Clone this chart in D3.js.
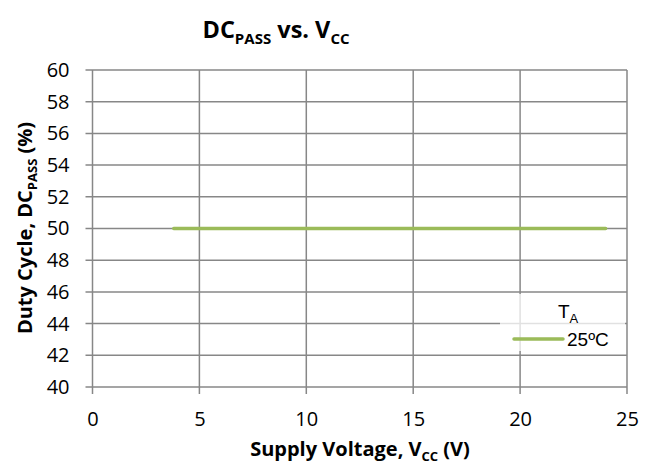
<!DOCTYPE html>
<html lang="en">
<head>
<meta charset="utf-8" />
<title>DCpass vs Vcc</title>
<style>
  * { margin: 0; padding: 0; }
  body { background: #fff; }
  svg { display: block; }
  .tick text { font-family: "Open Sans", sans-serif; font-size: 20px; fill: #000; }
  .grid line { stroke: #878787; stroke-width: 1.5px; }
  .title { font-family: "Open Sans", sans-serif; font-weight: bold; }
</style>
</head>
<body>
<div id="chart"></div>
<script src="https://cdnjs.cloudflare.com/ajax/libs/d3/7.8.5/d3.min.js"></script>
<script>
  // data
  var vcc = [3.8, 5, 10, 15, 20, 24];
  var dc25 = [50, 50, 50, 50, 50, 50];
  var xTicks = [0, 5, 10, 15, 20, 25];
  var yTicks = [40, 42, 44, 46, 48, 50, 52, 54, 56, 58, 60];

  var W = 655, H = 469;
  var m = {left: 92.5, right: 28, top: 70, bottom: 82};

  var svg = d3.select("#chart").append("svg")
      .attr("width", W).attr("height", H);

  var x = d3.scaleLinear().domain([0, 25]).range([m.left, W - m.right]);
  var y = d3.scaleLinear().domain([40, 60]).range([H - m.bottom, m.top]);

  // gridlines
  var grid = svg.append("g").attr("class", "grid");
  grid.selectAll(".h").data(yTicks).enter().append("line")
      .attr("x1", x(0) - 7).attr("x2", x(25))
      .attr("y1", function(d) { return y(d); }).attr("y2", function(d) { return y(d); });
  grid.selectAll(".v").data(xTicks).enter().append("line")
      .attr("x1", function(d) { return x(d); }).attr("x2", function(d) { return x(d); })
      .attr("y1", y(60)).attr("y2", y(40) + 7);

  // axes (labels only)
  svg.append("g")
      .attr("transform", "translate(0," + y(40) + ")")
      .call(d3.axisBottom(x).tickValues(xTicks).tickSize(0).tickPadding(25))
      .call(function(g) { g.select(".domain").remove(); });
  svg.append("g")
      .attr("transform", "translate(" + x(0) + ",0)")
      .call(d3.axisLeft(y).tickValues(yTicks).tickSize(0).tickPadding(23))
      .call(function(g) { g.select(".domain").remove(); });

  // series
  var pts = vcc.map(function(v, i) { return [v, dc25[i]]; });
  svg.append("path")
      .datum(pts)
      .attr("fill", "none")
      .attr("stroke", "#9bbb59")
      .attr("stroke-width", 3.5)
      .attr("stroke-linecap", "round")
      .attr("d", d3.line().x(function(d) { return x(d[0]); }).y(function(d) { return y(d[1]); }));

  // legend
  var lg = svg.append("g");
  lg.append("rect")
      .attr("x", 500).attr("y", 294).attr("width", 125).attr("height", 57)
      .attr("fill", "#fff").attr("fill-opacity", 0.75);
  var lt = lg.append("text")
      .attr("x", 558).attr("y", 318)
      .style("font-family", "'Liberation Sans', Arial, sans-serif")
      .style("font-size", "19px");
  lt.append("tspan").text("T");
  lt.append("tspan").attr("dy", 5).style("font-size", "13px").text("A");
  lg.append("line")
      .attr("x1", 514).attr("x2", 563).attr("y1", 339).attr("y2", 339)
      .attr("stroke", "#9bbb59").attr("stroke-width", 3.5).attr("stroke-linecap", "round");
  lg.append("text")
      .attr("x", 567).attr("y", 346)
      .style("font-family", "'Liberation Sans', Arial, sans-serif")
      .style("font-size", "19px")
      .text("25ºC");

  // title
  var t = svg.append("text").attr("class", "title")
      .attr("y", 38)
      .style("font-size", "23.5px");
  t.append("tspan").text("DC");
  t.append("tspan").attr("dy", 6).style("font-size", "15px").text("PASS");
  t.append("tspan").attr("dy", -6).text(" vs. V");
  t.append("tspan").attr("dy", 6).style("font-size", "15px").text("CC");
  t.attr("x", 276 - t.node().getComputedTextLength() / 2);

  // x axis title
  var xt = svg.append("text").attr("class", "title")
      .attr("y", 456)
      .style("font-size", "20px");
  xt.append("tspan").text("Supply Voltage, V");
  xt.append("tspan").attr("dy", 5).style("font-size", "13px").text("CC");
  xt.append("tspan").attr("dy", -5).text(" (V)");
  xt.attr("x", 360 - xt.node().getComputedTextLength() / 2);

  // y axis title
  var yt = svg.append("text").attr("class", "title")
      .style("font-size", "20px");
  yt.append("tspan").text("Duty Cycle, DC");
  yt.append("tspan").attr("dy", 5).style("font-size", "13px").text("PASS");
  yt.append("tspan").attr("dy", -5).text(" (%)");
  var yl = yt.node().getComputedTextLength();
  yt.attr("transform", "translate(32," + (228 + yl / 2) + ") rotate(-90)");
</script>
</body>
</html>
